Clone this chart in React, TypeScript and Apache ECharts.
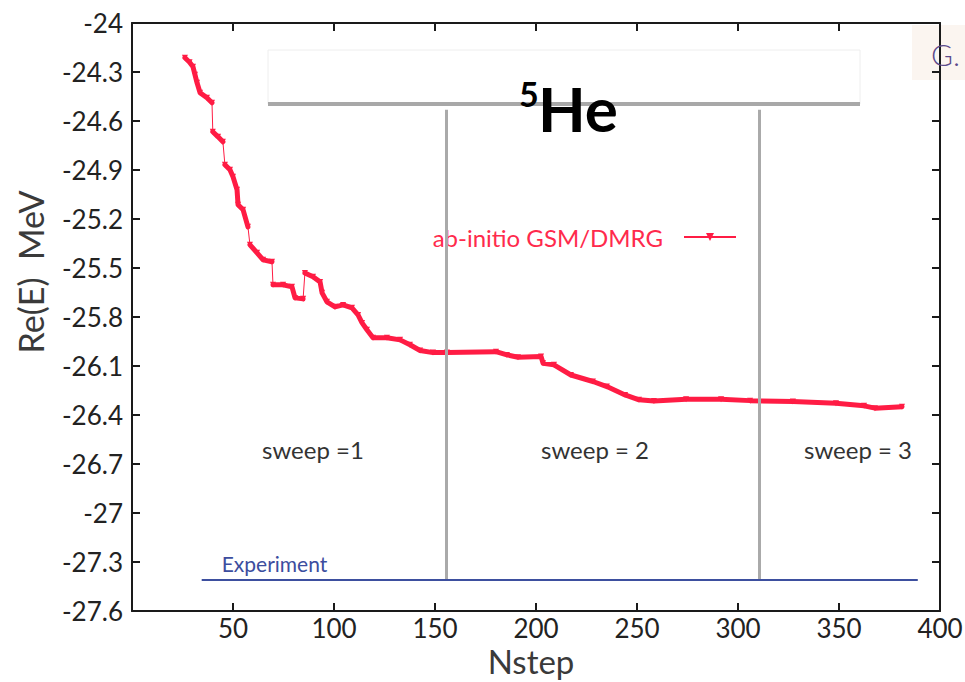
import React, { useEffect, useRef } from "react";
import * as echarts from "echarts";

// ---- data ----
const seg1: number[][] = [[26.2, -24.213], [28.5, -24.24], [30.2, -24.268], [31.2, -24.317], [32.2, -24.366], [33.7, -24.427], [37.1, -24.458], [39.6, -24.488]];
const seg2: number[][] = [[40.0, -24.666], [42.6, -24.697], [45.0, -24.727]];
const seg3: number[][] = [[46.0, -24.868], [48.5, -24.899], [50.0, -24.942], [52.0, -25.021], [52.5, -25.113], [55.0, -25.144], [57.4, -25.248]];
const seg4: number[][] = [[58.4, -25.358], [61.9, -25.407], [64.9, -25.45], [69.3, -25.462]];
const seg5: number[][] = [[69.8, -25.603], [74.8, -25.603], [79.2, -25.615], [80.7, -25.683], [84.7, -25.689]];
const seg6: number[][] = [
  [85.6, -25.53], [89.6, -25.554], [93.1, -25.585], [94.1, -25.652], [96.5, -25.707], [100.5, -25.738],
  [104.5, -25.726], [108.9, -25.744], [111.9, -25.787], [113.9, -25.836], [116.3, -25.878], [119.3, -25.927],
  [126.2, -25.927], [132.7, -25.94], [137.6, -25.97], [142.6, -26.005], [149.0, -26.018], [155.9, -26.018],
  [180.2, -26.012], [185.6, -26.032], [191.1, -26.046], [202.5, -26.042], [203.5, -26.083], [208.9, -26.093],
  [217.3, -26.155], [228.2, -26.195], [235.1, -26.226], [244.1, -26.277], [251.0, -26.307], [258.4, -26.314],
  [274.3, -26.303], [291.6, -26.303], [306.0, -26.312], [327.2, -26.318], [348.5, -26.328], [362.4, -26.344],
  [367.8, -26.358], [381.2, -26.349],
];
const segments = [seg1, seg2, seg3, seg4, seg5, seg6];

const sweepBounds = [155.7, 310.4];
const sweepLineTop = -24.531;
const experimentEnergy = -27.41;
const experimentRange = [34.5, 389];
const sweepLabels = ["sweep =1", "sweep = 2", "sweep = 3"];
const xTicks = { min: 0, max: 400, interval: 50 };
const yTicks = { min: -27.6, max: -24, interval: 0.3 };

const SERIES_NAME = "ab-initio GSM/DMRG";
const RED = "#ff1c44";
const FONT = 'Lato, "Noto Sans", sans-serif';

export default function App() {
  const ref = useRef<HTMLDivElement>(null);
  useEffect(() => {
    document.body.style.margin = "0";
    const chart = echarts.init(ref.current!, null, { renderer: "svg" });

    const allPoints: number[][] = [];
    segments.forEach((s) => s.forEach((p) => allPoints.push(p)));
    const thick: any[] = [];
    segments.forEach((s, i) => {
      s.forEach((p) => thick.push(p));
      if (i < segments.length - 1) thick.push([null, null]);
    });

    const axisLine = { show: true, onZero: false, lineStyle: { color: "#1a1a1a", width: 2 } };
    const axisTick = { show: true, inside: true, length: 8, lineStyle: { color: "#1a1a1a", width: 2 } };
    const labelStyle = { fontFamily: FONT, fontSize: 26, color: "#222" };

    const option: any = {
      animation: false,
      backgroundColor: "#ffffff",
      grid: { left: 132, right: 25, top: 23, bottom: 71, containLabel: false, outerBoundsMode: "none" },
      legend: {
        data: [SERIES_NAME],
        right: 223,
        top: 220,
        align: "right",
        itemWidth: 52,
        itemHeight: 10,
        textStyle: { color: "#ff2a4c", fontSize: 24, fontFamily: FONT, padding: [0, 16, 0, 0] },
      },
      xAxis: [
        {
          type: "value", position: "bottom", ...xTicks,
          axisLine, axisTick, splitLine: { show: false },
          axisLabel: { ...labelStyle, lineHeight: 24, margin: 5, formatter: (v: number) => (v === 0 ? "" : String(v)) },
        },
        {
          type: "value", position: "top", ...xTicks,
          axisLine, axisTick, splitLine: { show: false }, axisLabel: { show: false },
        },
      ],
      yAxis: [
        {
          type: "value", position: "left", ...yTicks,
          axisLine, axisTick, splitLine: { show: false },
          axisLabel: { ...labelStyle, margin: 9, formatter: (v: number) => String(Math.round(v * 10) / 10) },
        },
        {
          type: "value", position: "right", ...yTicks,
          axisLine, axisTick, splitLine: { show: false }, axisLabel: { show: false },
        },
      ],
      series: [
        {
          name: "sweeps",
          type: "line",
          data: [],
          silent: true,
          markLine: {
            symbol: "none",
            silent: true,
            animation: false,
            data: [
              ...sweepBounds.map((x) => [
                { coord: [x, sweepLineTop], lineStyle: { color: "#aaaaaa", width: 3, type: "solid" }, label: { show: false } },
                { coord: [x, experimentEnergy] },
              ]),
              [
                {
                  coord: [experimentRange[0], experimentEnergy],
                  lineStyle: { color: "#3d4f9f", width: 2, type: "solid" },
                  label: {
                    show: true, formatter: "Experiment", position: "insideStartTop", distance: [20, 6],
                    color: "#3c4d9e", fontSize: 21, fontFamily: FONT,
                  },
                },
                { coord: [experimentRange[1], experimentEnergy] },
              ],
            ],
          },
        },
        {
          name: SERIES_NAME,
          type: "line",
          data: allPoints,
          z: 4,
          color: RED,
          lineStyle: { color: RED, width: 1 },
          symbol: "triangle",
          symbolRotate: 180,
          symbolSize: 6,
          showSymbol: true,
          itemStyle: { color: RED },
        },
        {
          name: "dense",
          type: "line",
          data: thick,
          z: 3,
          connectNulls: false,
          showSymbol: false,
          symbol: "none",
          lineStyle: { color: RED, width: 5, cap: "round", join: "round" },
        },
      ],
      graphic: [
        { type: "rect", z: 10, shape: { x: 268, y: 50, width: 592, height: 54 }, style: { fill: "#ffffff", stroke: "#eeeeee", lineWidth: 1 } },
        { type: "line", z: 11, shape: { x1: 268, y1: 104, x2: 860, y2: 104 }, style: { stroke: "#a8a8a8", lineWidth: 4 } },
        {
          type: "text", z: 12, x: 538, y: 108,
          style: { text: "He", font: `bold 62px ${FONT}`, fill: "#000", textAlign: "left", align: "left", textVerticalAlign: "middle", verticalAlign: "middle" },
        },
        {
          type: "text", z: 12, x: 519, y: 93,
          style: { text: "5", font: `bold 34px ${FONT}`, fill: "#000", textAlign: "left", align: "left", textVerticalAlign: "middle", verticalAlign: "middle" },
        },
        {
          type: "text", x: 30, y: 272, rotation: Math.PI / 2,
          style: { text: "Re(E)  MeV", font: `34px ${FONT}`, fill: "#3a3a3a", textAlign: "center", align: "center", textVerticalAlign: "middle", verticalAlign: "middle" },
        },
        {
          type: "text", x: 531, y: 661,
          style: { text: "Nstep", font: `33px ${FONT}`, fill: "#3a3a3a", textAlign: "center", align: "center", textVerticalAlign: "middle", verticalAlign: "middle" },
        },
        ...sweepLabels.map((t, i) => ({
          type: "text", x: [262, 541, 804][i], y: 449,
          style: { text: t, font: `24px ${FONT}`, fill: "#333", textAlign: "left", align: "left", textVerticalAlign: "middle", verticalAlign: "middle" },
        })),
        { type: "rect", z: -1, shape: { x: 912, y: 25, width: 53, height: 55 }, style: { fill: "rgba(247,232,222,0.45)" } },
        {
          type: "text", z: 12, x: 931, y: 54,
          style: { text: "G.", font: `300 30px ${FONT}`, fill: "#5b4a8b", textAlign: "left", align: "left", textVerticalAlign: "middle", verticalAlign: "middle" },
        },
      ],
    };
    chart.setOption(option);
    return () => chart.dispose();
  }, []);
  return <div ref={ref} style={{ width: 965, height: 682 }} />;
}
